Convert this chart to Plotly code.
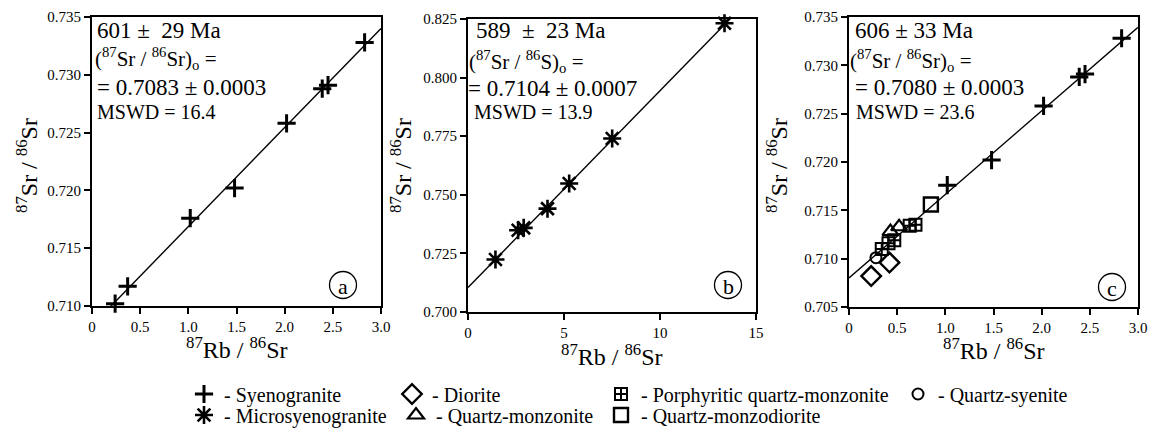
import numpy as np
import plotly.graph_objects as go

# ---- data -------------------------------------------------------------
syeno_x = [0.24, 0.37, 1.02, 1.48, 2.02, 2.39, 2.45, 2.83]
syeno_y = [0.7102, 0.7117, 0.7176, 0.7202, 0.7258, 0.7288, 0.7291, 0.7328]

micro_x = [1.43, 2.61, 2.90, 4.14, 5.27, 7.51, 13.36]
micro_y = [0.7224, 0.7349, 0.7359, 0.7441, 0.7548, 0.7740, 0.8232]

diorite_x = [0.23, 0.42]
diorite_y = [0.7082, 0.7096]

qsyenite_x = [0.28]
qsyenite_y = [0.7101]

porph_x = [0.34, 0.41, 0.47, 0.63, 0.69]
porph_y = [0.7110, 0.7116, 0.7119, 0.7134, 0.7135]

qmonz_x = [0.43, 0.52]
qmonz_y = [0.7128, 0.7133]

qmonzodior_x = [0.85]
qmonzodior_y = [0.7156]

# isochron results: age (Ma), initial ratio, MSWD
ages = [601, 589, 606]
age_err = [29, 23, 33]
initial = [0.7083, 0.7104, 0.7080]
initial_err = [0.0003, 0.0007, 0.0003]
mswd = [16.4, 13.9, 23.6]
LAMBDA_RB = 1.42e-11  # 87Rb decay constant, 1/yr

x_ticks = [[0, 0.5, 1.0, 1.5, 2.0, 2.5, 3.0], [0, 5, 10, 15], [0, 0.5, 1.0, 1.5, 2.0, 2.5, 3.0]]
x_ticktext = [["0", "0.5", "1.0", "1.5", "2.0", "2.5", "3.0"], ["0", "5", "10", "15"],
              ["0", "0.5", "1.0", "1.5", "2.0", "2.5", "3.0"]]
y_ticks = [[0.710, 0.715, 0.720, 0.725, 0.730, 0.735],
           [0.700, 0.725, 0.750, 0.775, 0.800, 0.825],
           [0.705, 0.710, 0.715, 0.720, 0.725, 0.730, 0.735]]
x_ranges = [[0, 3.0], [0, 15], [0, 3.0]]
y_ranges = [[0.710, 0.735], [0.700, 0.825], [0.705, 0.735]]
panel_letters = ["a", "b", "c"]
init_labels = ["(<sup>87</sup>Sr / <sup>86</sup>Sr)<sub>o</sub> =",
               "(<sup>87</sup>Sr / <sup>86</sup>S)<sub>o</sub> =",
               "(<sup>87</sup>Sr / <sup>86</sup>Sr)<sub>o</sub> ="]
age_labels = ["601 \u00b1  29 Ma", "589  \u00b1  23 Ma", "606 \u00b1 33 Ma"]

# ---- layout geometry (pixels) -----------------------------------------
W, H = 1149, 428
FONT = "Liberation Serif"
panels_px = [(92, 381, 17, 306), (468, 756, 19, 312), (849, 1138, 17, 307)]


def px(x):
    return x / W


def py(y):
    return 1 - y / H


fig = go.Figure()

BLACK = "#000000"


def add_pts(i, xs, ys, name, symbol, size, lw, legend=None):
    fig.add_trace(go.Scatter(
        x=xs, y=ys, mode="markers", name=name,
        xaxis="x" if i == 0 else f"x{i+1}", yaxis="y" if i == 0 else f"y{i+1}",
        marker=dict(symbol=symbol, size=size, color=BLACK,
                    line=dict(color=BLACK, width=lw)),
        showlegend=legend is not None, legend=legend or "legend",
        cliponaxis=False,
    ))


# isochron lines, drawn from age and initial ratio
for i in range(3):
    slope = np.expm1(LAMBDA_RB * ages[i] * 1e6)
    xl = np.array(x_ranges[i], dtype=float)
    yl = initial[i] + slope * xl
    fig.add_trace(go.Scatter(
        x=xl, y=yl, mode="lines", showlegend=False,
        xaxis="x" if i == 0 else f"x{i+1}", yaxis="y" if i == 0 else f"y{i+1}",
        line=dict(color=BLACK, width=1.4),
    ))

# panel a
add_pts(0, syeno_x, syeno_y, "- Syenogranite", "cross-thin-open", 13, 3)
# panel b
add_pts(1, micro_x, micro_y, "- Microsyenogranite", "asterisk-open", 15, 2.6, legend="legend5")
# panel c
add_pts(2, syeno_x[2:], syeno_y[2:], "- Syenogranite", "cross-thin-open", 13, 3, legend="legend")
add_pts(2, diorite_x, diorite_y, "- Diorite", "diamond-open", 15, 2.4, legend="legend2")
add_pts(2, qsyenite_x, qsyenite_y, "- Quartz-syenite", "circle-open", 11, 2, legend="legend4")
add_pts(2, porph_x, porph_y, "- Porphyritic quartz-monzonite", "square-cross-open", 12, 2, legend="legend3")
add_pts(2, qmonz_x, qmonz_y, "- Quartz-monzonite", "triangle-up-open", 14, 2.2, legend="legend6")
add_pts(2, qmonzodior_x, qmonzodior_y, "- Quartz-monzodiorite", "square-open", 14, 2.4, legend="legend7")

axis_common = dict(showline=True, linecolor=BLACK, linewidth=2, mirror=True,
                   ticks="outside", ticklen=6, tickwidth=2, tickcolor=BLACK,
                   showgrid=False, zeroline=False,
                   tickfont=dict(family=FONT, size=15, color=BLACK))

layout = dict(width=W, height=H, margin=dict(l=0, r=0, t=0, b=0, autoexpand=False),
              paper_bgcolor="white", plot_bgcolor="white",
              font=dict(family=FONT, color=BLACK))

for i, (l, r, t, b) in enumerate(panels_px):
    xs = "xaxis" if i == 0 else f"xaxis{i+1}"
    ys = "yaxis" if i == 0 else f"yaxis{i+1}"
    xa = "x" if i == 0 else f"x{i+1}"
    ya = "y" if i == 0 else f"y{i+1}"
    layout[xs] = dict(axis_common, domain=[px(l), px(r)], range=x_ranges[i],
                      tickvals=x_ticks[i], ticktext=x_ticktext[i], anchor=ya,
                      automargin=False)
    layout[ys] = dict(axis_common, domain=[py(b), py(t)], range=y_ranges[i],
                      tickvals=y_ticks[i], tickformat=".3f", anchor=xa,
                      automargin=False)

annotations = []
shapes = []
text_pos = [
    [(95, 31), (93, 59), (95, 87), (95, 112)],
    [(474, 31), (467, 61), (466, 88), (472, 112)],
    [(853, 31), (848, 60), (853, 87), (854, 112)],
]
for i in range(3):
    lines = [age_labels[i], init_labels[i],
             f"= {initial[i]:.4f} \u00b1 {initial_err[i]:.4f}",
             f"MSWD = {mswd[i]}"]
    sizes = [23, 21, 23, 20]
    for (x, y), txt, s in zip(text_pos[i], lines, sizes):
        annotations.append(dict(x=px(x), y=py(y), xref="paper", yref="paper",
                                xanchor="left", yanchor="middle", showarrow=False,
                                text=txt, font=dict(family=FONT, size=s, color=BLACK)))

# axis titles
ytitle_x = [27, 401, 777]
xtitle_y = [348, 355, 349]
for i, (l, r, t, b) in enumerate(panels_px):
    annotations.append(dict(x=px((l + r) / 2), y=py(xtitle_y[i]), xref="paper", yref="paper",
                            xanchor="center", yanchor="middle", showarrow=False,
                            text="<sup>87</sup>Rb / <sup>86</sup>Sr",
                            font=dict(family=FONT, size=24, color=BLACK)))
    annotations.append(dict(x=px(ytitle_x[i]), y=py(166), xref="paper", yref="paper",
                            xanchor="center", yanchor="middle", showarrow=False,
                            textangle=-90,
                            text="<sup>87</sup>Sr / <sup>86</sup>Sr",
                            font=dict(family=FONT, size=24, color=BLACK)))

# circled panel letters
letter_pos = [(343, 285), (728, 285), (1112, 287)]
for (cx, cy), letter in zip(letter_pos, panel_letters):
    rr = 13.5
    shapes.append(dict(type="circle", xref="paper", yref="paper",
                       x0=px(cx - rr), x1=px(cx + rr), y0=py(cy + rr), y1=py(cy - rr),
                       line=dict(color=BLACK, width=1.3)))
    annotations.append(dict(x=px(cx), y=py(cy + 1), xref="paper", yref="paper",
                            xanchor="center", yanchor="middle", showarrow=False,
                            text=letter, font=dict(family=FONT, size=22, color=BLACK)))

layout["annotations"] = annotations
layout["shapes"] = shapes

# legend blocks, one per entry
legend_pos = {"legend": (184, 394), "legend2": (392, 394), "legend3": (601, 394),
              "legend4": (898, 394), "legend5": (184, 415), "legend6": (396, 415),
              "legend7": (601, 415)}
for key, (lx, ly) in legend_pos.items():
    layout[key] = dict(x=px(lx), y=py(ly), xref="paper", yref="paper",
                       xanchor="left", yanchor="middle", bgcolor="rgba(0,0,0,0)",
                       borderwidth=0, itemwidth=30, tracegroupgap=0,
                       font=dict(family=FONT, size=20, color=BLACK))

fig.update_layout(**layout)
fig.write_html("out.html")
